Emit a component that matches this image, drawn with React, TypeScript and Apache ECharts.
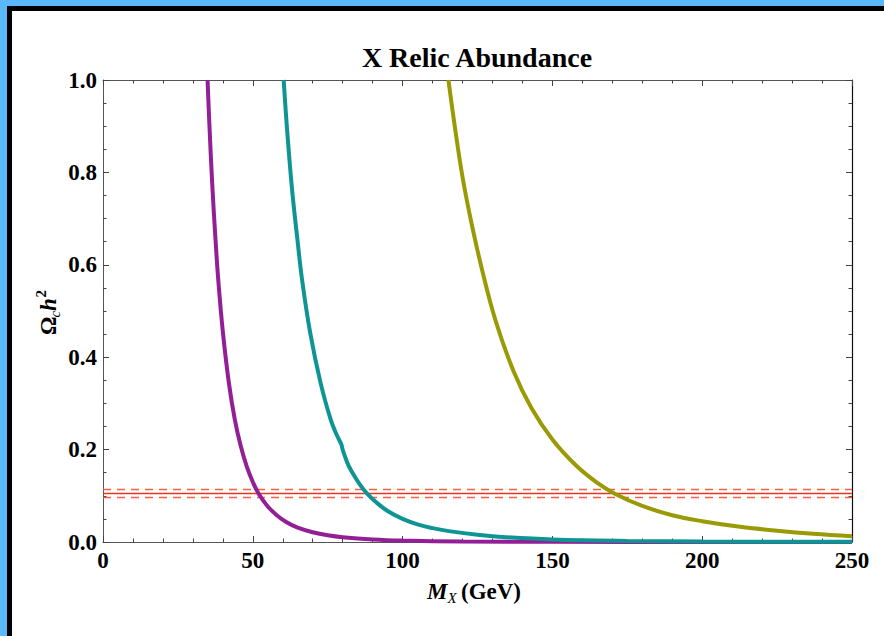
import React, { useEffect, useRef } from 'react';
import * as echarts from 'echarts';

// Curve data (M_X in GeV, Omega_c h^2)
const purpleX = [34.9, 35.5, 36.5, 37.5, 38.5, 40, 42, 44, 46, 48, 50, 52, 55, 58, 61, 65, 70, 75, 80, 90, 100, 120, 150, 200, 250];
const purpleY = [1.0, 0.905, 0.77, 0.66, 0.565, 0.455, 0.345, 0.265, 0.207, 0.163, 0.13, 0.104, 0.077, 0.058, 0.044, 0.031, 0.021, 0.0145, 0.0103, 0.0055, 0.0031, 0.0011, 0.0003, 0.00005, 0.00001];

const tealX = [60.3, 61.3, 63.0, 64.8, 66.5, 69.1, 72.6, 76.0, 78.0, 79.5, 80.0, 80.6, 82.0, 84.0, 86.0, 88.0, 91.0, 95.0, 100, 105, 110, 116, 125, 133, 150, 175, 200, 250];
const tealY = [1.0, 0.905, 0.77, 0.66, 0.565, 0.455, 0.345, 0.265, 0.232, 0.212, 0.2, 0.188, 0.165, 0.142, 0.122, 0.106, 0.087, 0.067, 0.05, 0.038, 0.03, 0.023, 0.0155, 0.011, 0.0055, 0.0023, 0.0011, 0.0003];

const oliveX = [115.3, 117.3, 120.0, 123.0, 126.5, 131.0, 137.0, 143.0, 150.0, 158.0, 165.0, 171.0, 180.0, 190.0, 200.0, 212.0, 225.0, 237.0, 250.0];
const oliveY = [1.0, 0.905, 0.79, 0.69, 0.59, 0.48, 0.37, 0.29, 0.222, 0.165, 0.128, 0.104, 0.078, 0.058, 0.045, 0.0335, 0.0245, 0.0178, 0.0125];

// Observed relic abundance band
const bandCenter = 0.105;
const bandUpper = 0.1135;
const bandLower = 0.0965;

const xMin = 0;
const xMax = 250;
const yMin = 0;
const yMax = 1;

const FONT = '"Liberation Serif", "Times New Roman", serif';

const pairs = (xs: number[], ys: number[]) => xs.map((x, i) => [x, ys[i]]);

export default function App() {
  const ref = useRef<HTMLDivElement>(null);

  useEffect(() => {
    if (!ref.current) return;
    const chart = echarts.init(ref.current, undefined, { renderer: 'svg' });

    const axisLabelStyle = {
      fontFamily: FONT,
      fontWeight: 'bold' as const,
      fontSize: 23,
      color: '#000',
    };

    const commonX = {
      type: 'value' as const,
      min: xMin,
      max: xMax,
      interval: 50,
      splitLine: { show: false },
      axisTick: { show: true, inside: true, length: 6, lineStyle: { color: '#444' } },
      minorTick: { show: true, splitNumber: 5, length: 3.5, lineStyle: { color: '#444' } },
      minorSplitLine: { show: false },
    };
    const commonY = {
      type: 'value' as const,
      min: yMin,
      max: yMax,
      interval: 0.2,
      splitLine: { show: false },
      axisTick: { show: true, inside: true, length: 6, lineStyle: { color: '#444' } },
      minorTick: { show: true, splitNumber: 4, length: 3.5, lineStyle: { color: '#444' } },
      minorSplitLine: { show: false },
    };

    const txt = (x: number, y: number, text: string, size: number, weight: string, style: string) => ({
      type: 'text',
      x,
      y,
      style: {
        text,
        fontFamily: FONT,
        fontSize: size,
        fontWeight: weight,
        fontStyle: style,
        fill: '#000',
        textAlign: 'left',
        textVerticalAlign: 'middle',
        align: 'left',
        verticalAlign: 'middle',
      },
    });

    const curve = (xs: number[], ys: number[], color: string) => ({
      type: 'line',
      data: pairs(xs, ys),
      symbol: 'none',
      smooth: 0.4,
      lineStyle: { color, width: 4 },
    });

    chart.setOption({
      animation: false,
      backgroundColor: '#fff',
      grid: { left: 103, right: 32, top: 80, bottom: 94, containLabel: false },
      xAxis: [
        {
          ...commonX,
          position: 'bottom',
          axisLine: { show: true, onZero: false, lineStyle: { color: '#555', width: 1 } },
          axisLabel: { ...axisLabelStyle, margin: 7 },
        },
        {
          ...commonX,
          position: 'top',
          axisLine: { show: true, onZero: false, lineStyle: { color: '#555', width: 1 } },
          axisLabel: { show: false },
        },
      ],
      yAxis: [
        {
          ...commonY,
          position: 'left',
          axisLine: { show: true, onZero: false, lineStyle: { color: '#555', width: 1 } },
          axisLabel: { ...axisLabelStyle, margin: 6, formatter: (v: number) => v.toFixed(1) },
        },
        {
          ...commonY,
          position: 'right',
          axisLine: { show: true, onZero: false, lineStyle: { color: '#111', width: 1.2 } },
          axisLabel: { show: false },
        },
      ],
      series: [
        {
          type: 'line',
          data: [[xMin, bandUpper], [xMax, bandUpper]],
          symbol: 'none',
          lineStyle: { color: '#ee6248', width: 1.5, type: [8, 6] },
          silent: true,
        },
        {
          type: 'line',
          data: [[xMin, bandCenter], [xMax, bandCenter]],
          symbol: 'none',
          lineStyle: { color: '#e03a1e', width: 1.5 },
          silent: true,
        },
        {
          type: 'line',
          data: [[xMin, bandLower], [xMax, bandLower]],
          symbol: 'none',
          lineStyle: { color: '#ee6248', width: 1.5, type: [8, 6] },
          silent: true,
        },
        curve(purpleX, purpleY, '#931f96'),
        curve(tealX, tealY, '#0f9494'),
        curve(oliveX, oliveY, '#9a9a06'),
      ],
      graphic: [
        { type: 'rect', shape: { x: 0, y: 0, width: 884, height: 6 }, style: { fill: '#5ab8fb' }, z: 100 },
        { type: 'rect', shape: { x: 0, y: 0, width: 7, height: 636 }, style: { fill: '#5ab8fb' }, z: 100 },
        { type: 'rect', shape: { x: 7, y: 6, width: 877, height: 5 }, style: { fill: '#000' }, z: 100 },
        { type: 'rect', shape: { x: 7, y: 6, width: 5, height: 630 }, style: { fill: '#000' }, z: 100 },
        {
          type: 'text',
          x: 477,
          y: 57,
          style: {
            text: 'X Relic Abundance',
            fontFamily: FONT,
            fontSize: 28,
            fontWeight: 'bold',
            fill: '#000',
            textAlign: 'center',
            textVerticalAlign: 'middle',
            align: 'center',
            verticalAlign: 'middle',
          },
        },
        {
          type: 'group',
          x: 56,
          y: 335,
          rotation: Math.PI / 2,
          children: [
            txt(0, -7.8, 'Ω', 23, 'bold', 'normal'),
            txt(17.5, -1, 'c', 15, 'normal', 'italic'),
            txt(24, -7.8, 'h', 23, 'bold', 'italic'),
            txt(37.5, -15, '2', 15, 'bold', 'normal'),
          ],
        },
        {
          type: 'group',
          x: 427,
          y: 599,
          children: [
            txt(0, -7.8, 'M', 23, 'bold', 'italic'),
            txt(20.5, -1, 'X', 15, 'normal', 'italic'),
            txt(34, -7.8, '(GeV)', 23, 'bold', 'normal'),
          ],
        },
      ],
    });

    return () => chart.dispose();
  }, []);

  return (
    <div
      ref={ref}
      style={{ position: 'fixed', left: 0, top: 0, width: 884, height: 636, background: '#fff' }}
    />
  );
}
